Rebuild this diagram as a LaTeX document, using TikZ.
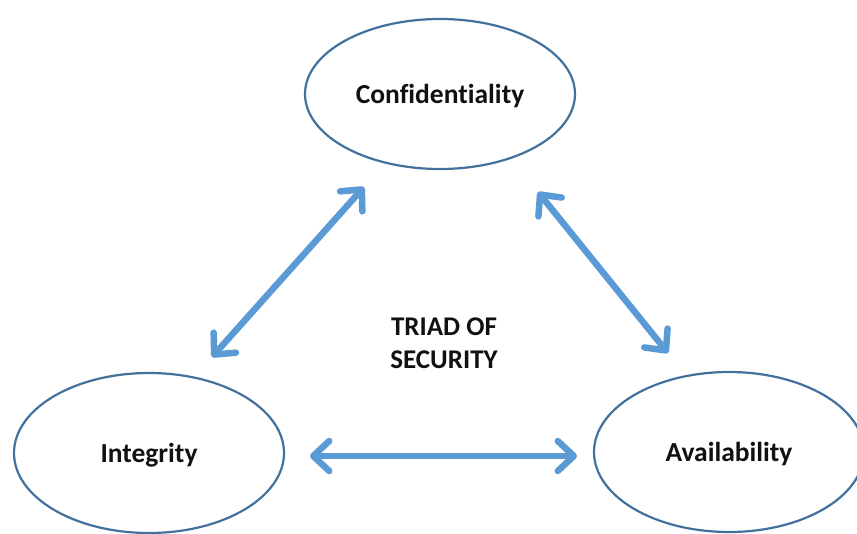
\documentclass[tikz,border=0pt]{standalone}
\usepackage{fontspec}
\setmainfont[Ligatures=NoCommon]{Carlito}
\usetikzlibrary{shapes.geometric,arrows.meta}
\definecolor{rimblue}{HTML}{41719C}
\definecolor{linkblue}{HTML}{5B9BD5}
\definecolor{inktext}{HTML}{111111}
\tikzset{
  pillar/.style={ellipse, draw=rimblue, line width=2.2pt, fill=white,
    inner sep=0pt, text=inktext, text height=19pt, text depth=0pt,
    font=\fontsize{27.5}{33}\selectfont\bfseries},
  link/.style={draw=linkblue, line width=6.5pt,
    {Straight Barb[length=16pt,width=30pt,round]}-{Straight Barb[length=16pt,width=30pt,round]}},
  caption/.style={text=inktext, align=center, font=\fontsize{27}{33}\selectfont\bfseries}
}
\begin{document}
\begin{tikzpicture}[x=1pt,y=-1pt]
  \useasboundingbox[fill=white] (0,0) rectangle (857,533);

  % the three pillars
  \node[pillar, minimum width=270pt, minimum height=150pt] (conf) at (440,94) {Confidentiality};
  \node[pillar, minimum width=270pt, minimum height=160pt] (integ) at (149,453) {Integrity};
  \node[pillar, minimum width=270pt, minimum height=160pt] (avail) at (729,452) {Availability};

  % title in the middle
  \node[caption] (title) at (444,343) {TRIAD OF\\SECURITY};

  % ends of the double-headed links
  \coordinate (ci) at (364,187);
  \coordinate (ic) at (212,357);
  \coordinate (ca) at (538,192);
  \coordinate (ac) at (668,353);
  \coordinate (ia) at (310,456);
  \coordinate (ai) at (577,456);

  \draw[link] (ic) -- (ci);
  \draw[link] (ca) -- (ac);
  \draw[link] (ia) -- (ai);
\end{tikzpicture}
\end{document}
